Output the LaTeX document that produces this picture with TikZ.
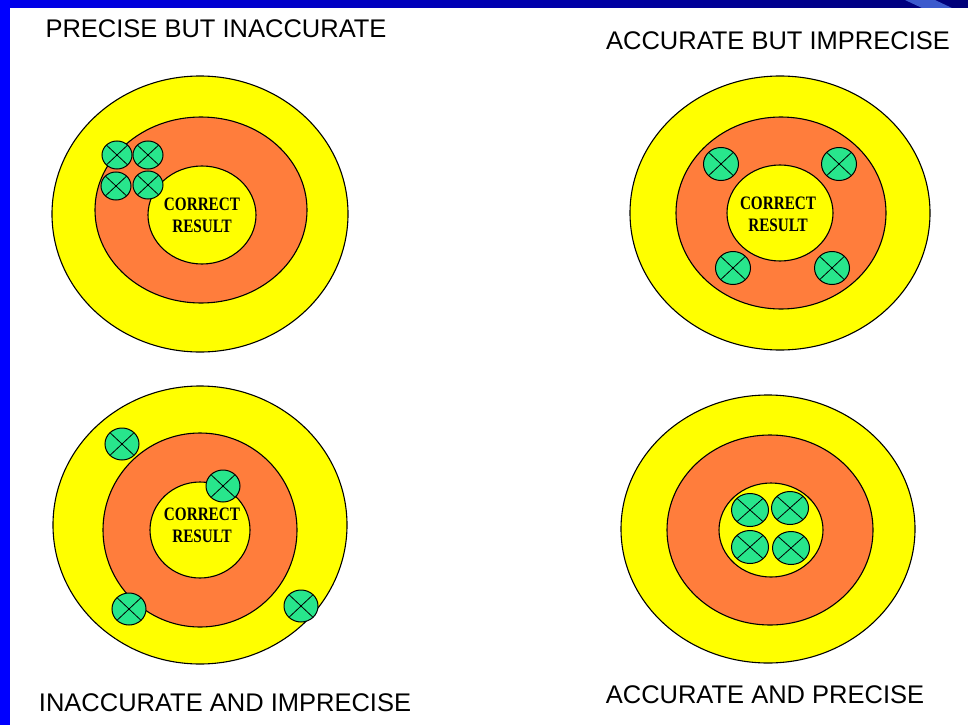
\documentclass[tikz,border=0pt]{standalone}
\usepackage{fontspec}
\newfontfamily\ttlfont{Liberation Sans}
\newfontfamily\resfont{Liberation Serif}
\usepackage{tikz}
\usetikzlibrary{positioning}
\definecolor{tgyellow}{RGB}{255,255,0}
\definecolor{tgorange}{RGB}{255,125,60}
\definecolor{tggreen}{RGB}{40,230,140}
\definecolor{slideblue}{RGB}{0,0,235}
\definecolor{slidenavy}{RGB}{0,0,120}
\definecolor{slidelight}{RGB}{60,90,205}
\tikzset{
  ring/.style  = {draw=black, line width=1.1pt},
  outer/.style = {ring, fill=tgyellow},
  band/.style  = {ring, fill=tgorange},
  bull/.style  = {ring, fill=tgyellow},
  hitm/.style  = {draw=black, line width=1pt, fill=tggreen},
  xmark/.style = {draw=black, line width=.8pt},
  ttl/.style   = {font=\ttlfont\fontsize{25.5}{30}\selectfont, inner sep=0pt},
  res/.style   = {font=\resfont\bfseries\fontsize{19}{22}\selectfont, align=center,
                  inner sep=0pt, xscale=.8},
}

\begin{document}
\begin{tikzpicture}[x=1pt, y=-1pt]
\useasboundingbox (0,0) rectangle (968,725);
\fill[white] (0,0) rectangle (968,725);

% ===== slide frame =====
\shade[left color=slideblue, right color=slidenavy] (0,0) rectangle (968,8);
\fill[slidelight] (905,0) -- (935,0) -- (952,8) -- (922,8) -- cycle;
\fill[blue] (0,0) rectangle (10,725);

% ===== precise but inaccurate =====
\draw[outer] (200,214) ellipse[x radius=148, y radius=138];
\draw[band]  (201,210) ellipse[x radius=106, y radius=93];
\draw[bull]  (202,215) ellipse[x radius=54, y radius=49];
\node[res] (resA) at (202,215) {CORRECT\\RESULT};
\foreach \x/\y/\a/\b in {117/155/15/14, 148/155/15/14, 116/186/15/14, 148/185/15/14}{
  \draw[hitm] (\x,\y) ellipse[x radius=\a, y radius=\b];
  \draw[xmark] (\x,\y) +({.7*\a},{.7*\b}) -- +({-.7*\a},{-.7*\b})
                       +({.7*\a},{-.7*\b}) -- +({-.7*\a},{.7*\b});
}
\node[ttl] (ttlA) at (216,29) {PRECISE BUT INACCURATE};

% ===== accurate but imprecise =====
\draw[outer] (780,213) ellipse[x radius=150, y radius=137];
\draw[band]  (781,213) ellipse[x radius=105, y radius=96];
\draw[bull]  (780,213) ellipse[x radius=53, y radius=48];
\node[res] (resB) at (778,214) {CORRECT\\RESULT};
\foreach \x/\y/\a/\b in {721/164/17.5/16.5, 839/164/17.5/16.5, 733/268/17.5/16.5, 832/268/17.5/16.5}{
  \draw[hitm] (\x,\y) ellipse[x radius=\a, y radius=\b];
  \draw[xmark] (\x,\y) +({.7*\a},{.7*\b}) -- +({-.7*\a},{-.7*\b})
                       +({.7*\a},{-.7*\b}) -- +({-.7*\a},{.7*\b});
}
\node[ttl] (ttlB) at (778,41) {ACCURATE BUT IMPRECISE};

% ===== inaccurate and imprecise =====
\draw[outer] (200,525) ellipse[x radius=147, y radius=139];
\draw[band]  (200,530) ellipse[x radius=97, y radius=97];
\draw[bull]  (200,530) ellipse[x radius=50, y radius=48];
\node[res] (resC) at (202,525) {CORRECT\\RESULT};
\foreach \x/\y/\a/\b in {122/444/17/16, 223/486/17/16, 129/609/17/16, 301/606/17/16}{
  \draw[hitm] (\x,\y) ellipse[x radius=\a, y radius=\b];
  \draw[xmark] (\x,\y) +({.7*\a},{.7*\b}) -- +({-.7*\a},{-.7*\b})
                       +({.7*\a},{-.7*\b}) -- +({-.7*\a},{.7*\b});
}
\node[ttl] (ttlC) at (225,703) {INACCURATE AND IMPRECISE};

% ===== accurate and precise =====
\draw[outer] (768,529) ellipse[x radius=147, y radius=134];
\draw[band]  (770,530) ellipse[x radius=103, y radius=95];
\draw[bull]  (771,530) ellipse[x radius=52, y radius=47];
\foreach \x/\y/\a/\b in {750/510/18.5/16.5, 790/508/18.5/16.5, 750/547/18.5/16.5, 791/548/18.5/16.5}{
  \draw[hitm] (\x,\y) ellipse[x radius=\a, y radius=\b];
  \draw[xmark] (\x,\y) +({.7*\a},{.7*\b}) -- +({-.7*\a},{-.7*\b})
                       +({.7*\a},{-.7*\b}) -- +({-.7*\a},{.7*\b});
}
\node[ttl] (ttlD) at (765,695) {ACCURATE AND PRECISE};
\end{tikzpicture}
\end{document}
